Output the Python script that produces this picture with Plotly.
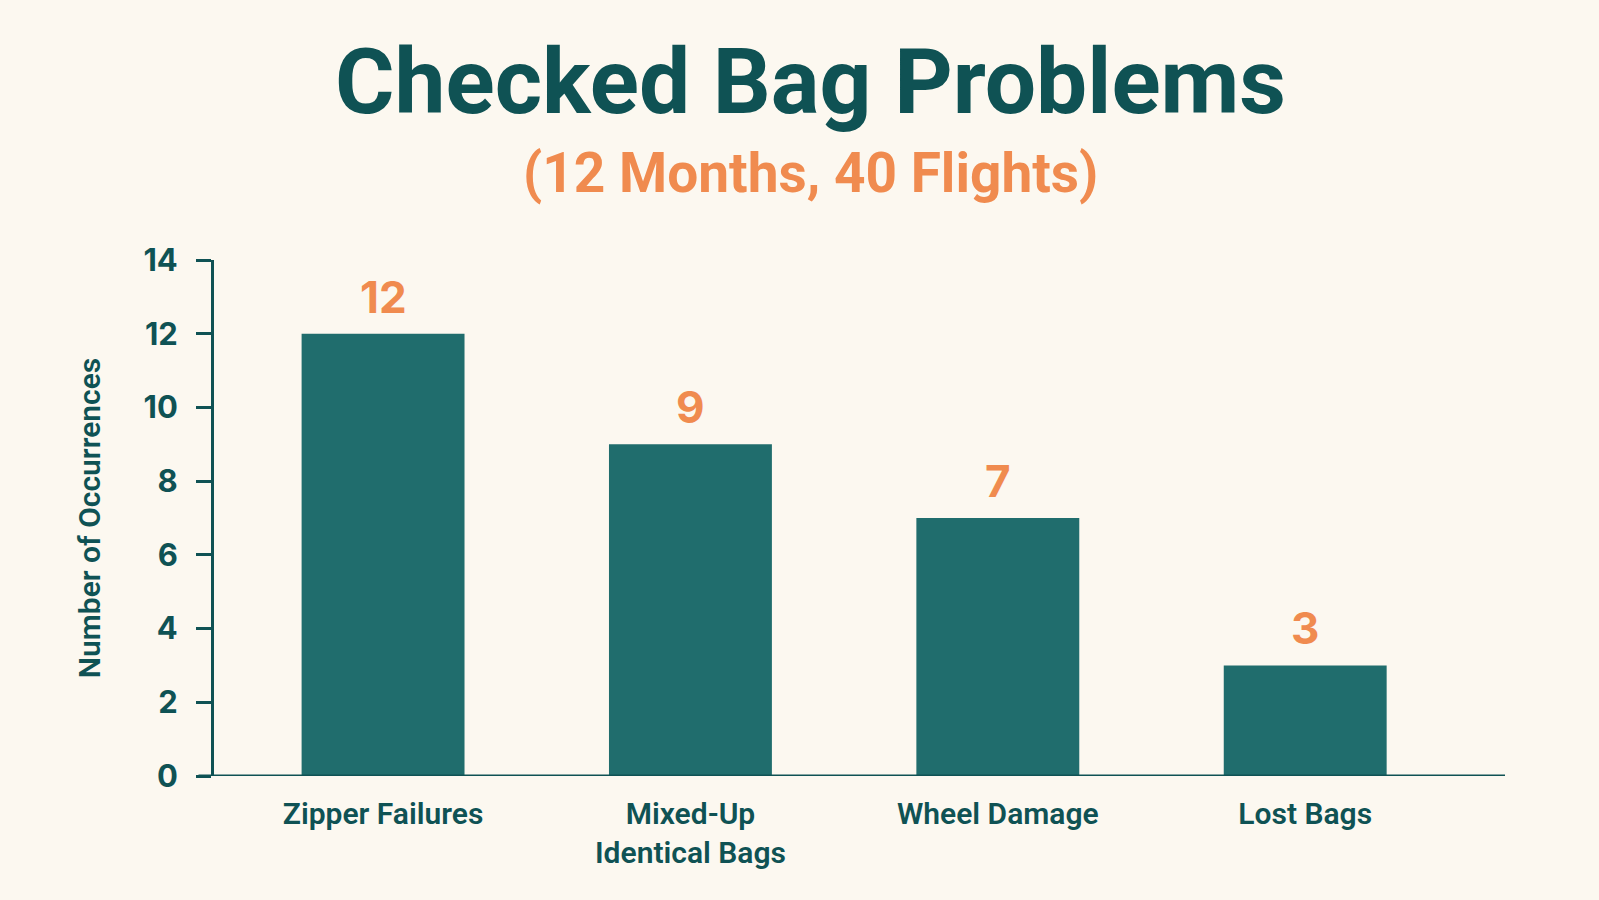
import plotly.graph_objects as go

categories = ["Zipper Failures", "Mixed-Up<br>Identical Bags", "Wheel Damage", "Lost Bags"]
occurrences = [12, 9, 7, 3]
value_labels = ["12", "9", "7", "3"]
y_ticks = [0, 2, 4, 6, 8, 10, 12, 14]

BG = "#fcf8f0"
DARK = "#0f5254"
BAR = "#206d6d"
ORANGE = "#f08b4f"
FONT = "Inter"
TFONT = "Roboto"

fig = go.Figure()
fig.add_trace(go.Bar(
    x=list(range(len(categories))),
    y=occurrences,
    marker=dict(color=BAR, line=dict(width=0)),
    width=0.53,
    hoverinfo="skip",
))

for i, (v, lab) in enumerate(zip(occurrences, value_labels)):
    fig.add_annotation(
        x=i, y=v, xref="x", yref="y", text=lab, showarrow=False,
        yanchor="middle", yshift=37,
        font=dict(family=FONT, size=44, color=ORANGE, weight=700),
    )

fig.add_annotation(
    x=0.4617, y=1.345, xref="paper", yref="paper", text="Checked Bag Problems",
    showarrow=False, xanchor="center", yanchor="middle",
    font=dict(family=TFONT, size=91, color=DARK, weight=700),
)
fig.add_annotation(
    x=0.4617, y=1.1686, xref="paper", yref="paper", text="(12 Months, 40 Flights)",
    showarrow=False, xanchor="center", yanchor="middle",
    font=dict(family=TFONT, size=55, color=ORANGE, weight=700),
)

fig.update_layout(
    width=1599, height=900,
    margin=dict(l=214, r=94, t=260, b=124),
    paper_bgcolor=BG, plot_bgcolor=BG,
    showlegend=False,
)
fig.update_xaxes(
    range=[-0.55, 3.65],
    tickmode="array", tickvals=list(range(len(categories))), ticktext=categories,
    showgrid=False, zeroline=False, showline=False, ticks="",
    ticklabelstandoff=17,
    tickfont=dict(family=TFONT, size=30, color=DARK, weight=600),
    fixedrange=True,
)
fig.update_yaxes(
    range=[0, 14],
    tickmode="array", tickvals=y_ticks,
    showgrid=False, zeroline=False,
    showline=True, linecolor=DARK, linewidth=3,
    ticks="outside", ticklen=15, tickwidth=3, tickcolor=DARK,
    ticklabelstandoff=12,
    tickfont=dict(family=FONT, size=31, color=DARK, weight=700),
    title=dict(text="Number of Occurrences", standoff=34,
               font=dict(family=TFONT, size=30, color=DARK, weight=600)),
    fixedrange=True,
)
fig.add_shape(type="line", xref="paper", yref="y", x0=-0.012, x1=1, y0=0, y1=0,
              line=dict(color=DARK, width=3))

fig.write_html("out.html")
